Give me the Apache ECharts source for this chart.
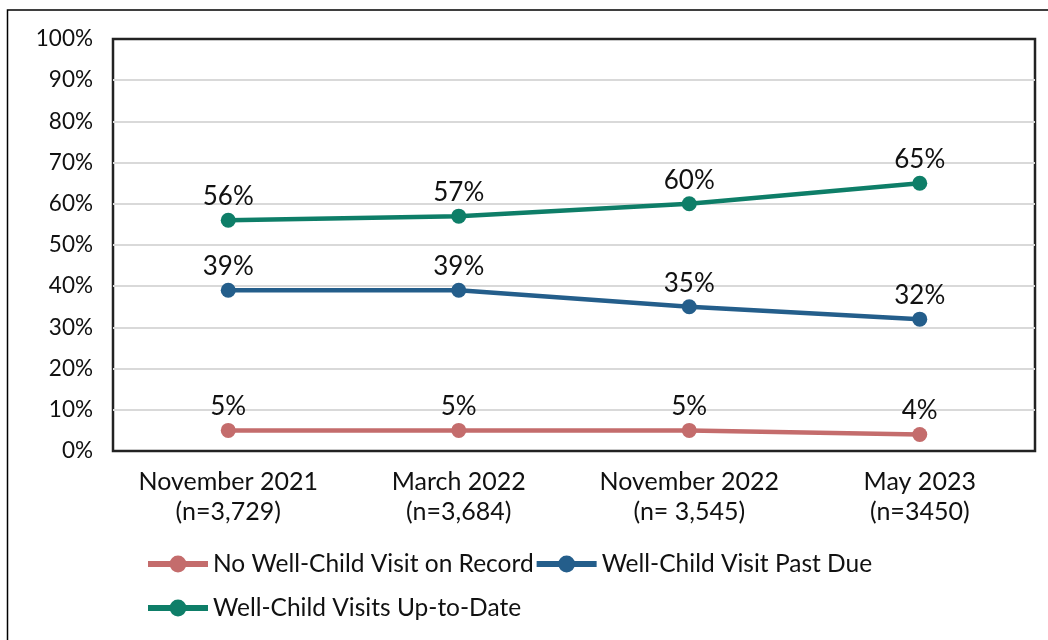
<!DOCTYPE html>
<html><head><meta charset="utf-8">
<script src="https://cdn.jsdelivr.net/npm/echarts@6/dist/echarts.min.js"></script>
<style>html,body{margin:0;padding:0;background:#fff}#c{width:1048px;height:640px}</style>
</head><body><div id="c"></div>
<script>
const categories = ['November 2021\n(n=3,729)', 'March 2022\n(n=3,684)', 'November 2022\n(n= 3,545)', 'May 2023\n(n=3450)'];
const noVisit = [5, 5, 5, 4];
const pastDue = [39, 39, 35, 32];
const upToDate = [56, 57, 60, 65];
const seriesNames = ['No Well-Child Visit on Record', 'Well-Child Visit Past Due', 'Well-Child Visits Up-to-Date'];
const colors = ['#C46C6C', '#245E8B', '#0E7E68'];
const FONT = 'Lato';

const chart = echarts.init(document.getElementById('c'), null, {renderer: 'canvas'});
function mk(name, data, color) {
  return {
    name, type: 'line', data, color,
    symbol: 'circle', symbolSize: 15,
    lineStyle: {width: 4.5, color},
    itemStyle: {color},
    label: {show: true, position: 'top', distance: 3, formatter: '{c}%', fontFamily: FONT, fontSize: 26, color: '#111'},
    emphasis: {disabled: true}, animation: false
  };
}
chart.setOption({
  animation: false,
  textStyle: {fontFamily: FONT},
  graphic: [{type: 'rect', shape: {x: 7.5, y: 10, width: 1200, height: 800}, style: {fill: 'none', stroke: '#000', lineWidth: 1.5}, silent: true}],
  grid: {left: 113, right: 13, top: 39, bottom: 189, containLabel: false, show: true, borderColor: '#222', borderWidth: 2.5},
  xAxis: {
    type: 'category', data: categories, boundaryGap: true,
    axisLine: {show: false}, axisTick: {show: false},
    axisLabel: {interval: 0, hideOverlap: false, fontFamily: FONT, fontSize: 25, color: '#111', lineHeight: 30, margin: 16}
  },
  yAxis: {
    type: 'value', min: 0, max: 100, interval: 10,
    axisLine: {show: false}, axisTick: {show: false},
    axisLabel: {formatter: '{value}%', fontFamily: FONT, fontSize: 22.5, color: '#111', margin: 20},
    splitLine: {showMinLine: false, showMaxLine: false, lineStyle: {color: '#d9d9d9', width: 2}}
  },
  legend: {
    data: seriesNames, left: 140, top: 537, width: 760, itemWidth: 60, itemHeight: 21, itemGap: 0,
    lineStyle: {width: 6},
    textStyle: {fontFamily: FONT, fontSize: 24.5, color: '#111', lineHeight: 44}, selectedMode: false
  },
  series: [mk(seriesNames[0], noVisit, colors[0]), mk(seriesNames[1], pastDue, colors[1]), mk(seriesNames[2], upToDate, colors[2])]
});
</script></body></html>
